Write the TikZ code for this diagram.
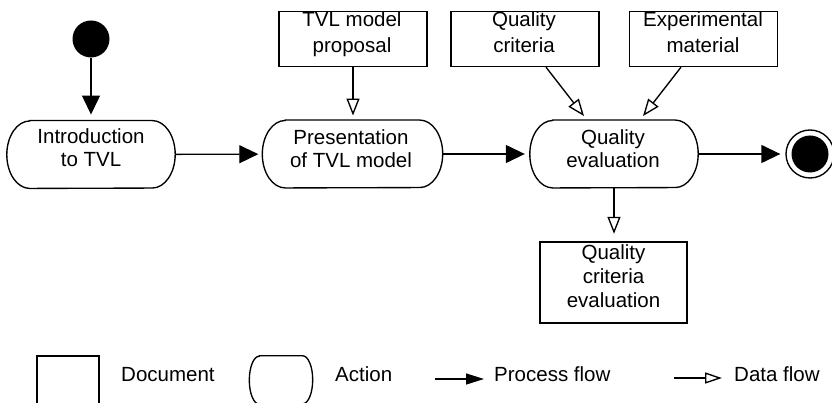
\documentclass[tikz,border=0pt]{standalone}
\usepackage{fontspec}
\setmainfont{Liberation Sans}
\usetikzlibrary{arrows.meta}
\tikzset{
  lw/.style={line width=1.35pt},
  docbox/.style={draw, lw, minimum width=148pt, minimum height=55pt, inner sep=0pt},
  actshape/.style={minimum width=168pt, minimum height=67.5pt, inner sep=0pt},
  txt/.style={font=\fontsize{20.5}{23}\selectfont, align=center, inner sep=0pt, anchor=north},
  legtxt/.style={font=\fontsize{20.5}{23}\selectfont, inner sep=0pt, anchor=base west},
  procflow/.style={lw, -{Triangle[length=19pt,width=18pt]}},
  dataflow/.style={lw, -{Triangle[open,length=17pt,width=13pt]}},
}
\newcommand{\actoutline}[3]{%
  \draw[lw] ([xshift=#2]#1.north west) -- ([xshift=-#2]#1.north east)
    arc[start angle=90,end angle=-90,x radius=#2,y radius=#3]
    -- ([xshift=#2]#1.south west)
    arc[start angle=270,end angle=90,x radius=#2,y radius=#3] -- cycle;}
\begin{document}
\begin{tikzpicture}[x=1pt,y=-1pt]
\useasboundingbox (0,0) rectangle (832,403);

% action shapes
\node[actshape] (intro) at (91,154.5) {};
\node[actshape, minimum width=180pt] (pres) at (352.5,154) {};
\node[actshape] (qe) at (614,154) {};
\actoutline{intro}{23pt}{33.75pt}
\actoutline{pres}{23pt}{33.75pt}
\actoutline{qe}{23pt}{33.75pt}

\node[txt] (introtxt) at (91,128.8) {Introduction\\to TVL};
\node[txt] (prestxt) at (351,129.8) {Presentation\\of TVL model};
\node[txt] (qetxt) at (613,129.3) {Quality\\evaluation};

% documents
\node[docbox] (tvl) at (353,39) {};
\node[docbox] (qc) at (525,39) {};
\node[docbox] (em) at (703.5,39) {};
\node[docbox, minimum width=147pt, minimum height=81pt] (qce) at (613.5,282.5) {};

\node[txt, font=\fontsize{20.5}{26}\selectfont] (tvltxt) at (352,11.5) {TVL model\\proposal};
\node[txt, font=\fontsize{20.5}{26}\selectfont] (qctxt) at (524,11.5) {Quality\\criteria};
\node[txt, font=\fontsize{20.5}{26}\selectfont] (emtxt) at (703,11.5) {Experimental\\material};
\node[txt, font=\fontsize{20.5}{24}\selectfont] (qcetxt) at (613.5,244.3) {Quality\\criteria\\evaluation};

% start / final
\node[circle, fill=black, minimum size=37pt, inner sep=0pt] (start) at (91,39) {};
\node[circle, draw, lw, fill=white, minimum size=48pt, inner sep=0pt] (final) at (810,154) {};
\fill (final.center) circle[radius=18.5pt];

% process flow
\draw[procflow, shorten >=6pt] (start) -- (intro);
\draw[procflow, shorten >=4pt] (intro) -- (pres);
\draw[procflow, shorten >=5pt] (pres) -- (qe);
\draw[procflow, shorten >=5pt] (qe) -- (final);

% data flow
\draw[dataflow, shorten >=4.5pt] (tvl.south) -- (tvl.south |- pres.north);
\draw[dataflow] ([xshift=21pt]qc.south) -- ([xshift=-30pt,yshift=4pt]qe.north);
\draw[dataflow] ([xshift=-22.5pt]em.south) -- ([xshift=29pt,yshift=4pt]qe.north);
\draw[dataflow, shorten >=7.5pt] (qe.south) -- (qe.south |- qce.north);

% legend
\node[draw, lw, minimum width=62pt, minimum height=48pt, inner sep=0pt] (legdoc) at (68,380) {};
\node[minimum width=63pt, minimum height=48pt, inner sep=0pt] (legact) at (281,380) {};
\actoutline{legact}{10pt}{24pt}
\node[legtxt] (legdoctxt) at (121,381) {Document};
\node[legtxt] (legacttxt) at (335,381) {Action};
\coordinate (pfA) at (435,379);
\coordinate (pfB) at (484,379);
\draw[lw, -{Triangle[length=18pt,width=11pt]}] (pfA) -- (pfB);
\node[legtxt] (legpftxt) at (494,381) {Process flow};
\coordinate (dfA) at (674,378);
\coordinate (dfB) at (722,378);
\draw[lw, -{Triangle[open,length=17pt,width=11pt]}] (dfA) -- (dfB);
\node[legtxt] (legdftxt) at (734,381) {Data flow};
\end{tikzpicture}
\end{document}
